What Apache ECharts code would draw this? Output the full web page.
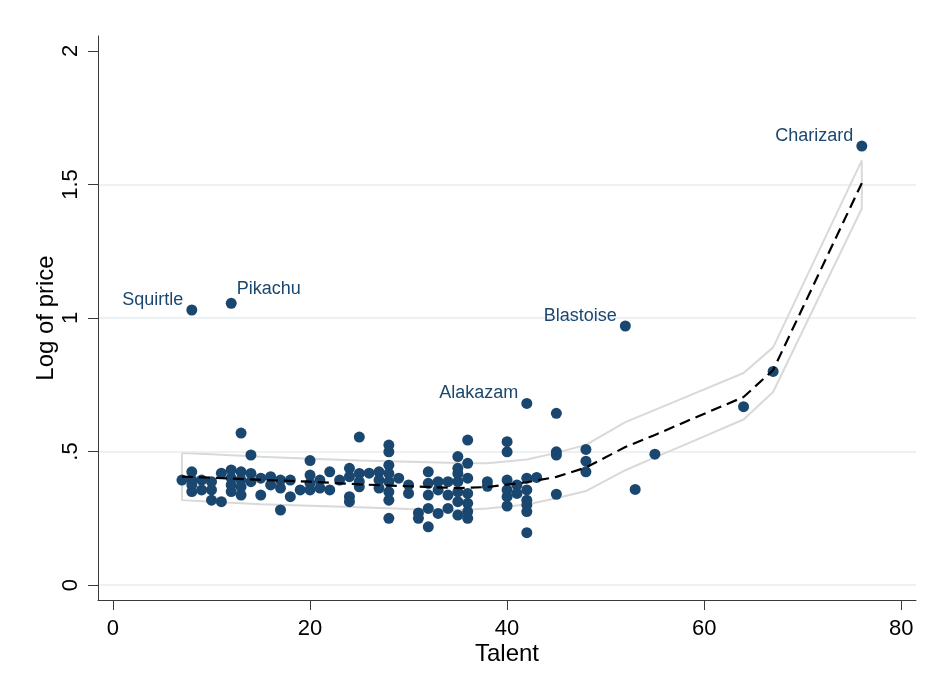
<!DOCTYPE html>
<html>
<head>
<meta charset="utf-8">
<script src="https://cdn.jsdelivr.net/npm/echarts@6/dist/echarts.min.js"></script>
<style>html,body{margin:0;padding:0;background:#fff}#c{width:930px;height:685px}</style>
</head>
<body>
<div id="c"></div>
<script>
// ---- data ----
const talent = [
  7,
  8,8,8,8,
  9,9,
  10,10,10,
  11,11,
  12,12,12,12,
  13,13,13,13,13,
  14,14,14,
  15,15,
  16,16,
  17,17,17,
  18,18,
  19,
  20,20,20,20,
  21,21,
  22,22,
  23,
  24,24,24,24,
  25,25,25,25,
  26,
  27,27,27,
  28,28,28,28,28,28,28,28,
  29,
  30,30,
  31,31,
  32,32,32,32,32,
  33,33,33,
  34,34,34,
  35,35,35,35,35,35,35,
  36,36,36,36,36,36,36,
  38,38,
  40,40,40,40,40,40,
  41,41,
  42,42,42,42,42,42,
  43,
  45,45,45,45,
  48,48,48,
  53,
  55,
  64,
  67
];
const logPrice = [
  0.393,
  0.424,0.393,0.375,0.35,
  0.393,0.356,
  0.387,0.356,0.318,
  0.419,0.312,
  0.431,0.4,0.375,0.35,
  0.569,0.424,0.393,0.368,0.337,
  0.487,0.418,0.387,
  0.4,0.337,
  0.406,0.375,
  0.393,0.363,0.281,
  0.393,0.331,
  0.356,
  0.466,0.412,0.381,0.356,
  0.393,0.363,
  0.424,0.356,
  0.393,
  0.437,0.406,0.331,0.312,
  0.554,0.418,0.387,0.368,
  0.419,
  0.424,0.393,0.363,
  0.524,0.499,0.449,0.418,0.387,0.349,0.318,0.25,
  0.4,
  0.375,0.343,
  0.27,0.25,
  0.424,0.381,0.337,0.287,0.218,
  0.387,0.356,0.268,
  0.387,0.337,0.287,
  0.481,0.437,0.418,0.387,0.349,0.312,0.262,
  0.543,0.456,0.4,0.343,0.306,0.275,0.25,
  0.387,0.37,
  0.537,0.499,0.393,0.356,0.331,0.296,
  0.375,0.343,
  0.4,0.356,0.318,0.3,0.275,0.196,
  0.403,
  0.643,0.499,0.487,0.34,
  0.508,0.464,0.424,
  0.358,
  0.49,
  0.668,
  0.8
];
const namedPokemon = ['Squirtle','Pikachu','Alakazam','Blastoise','Charizard'];
const namedTalent  = [8, 12, 42, 52, 76];
const namedPrice   = [1.03, 1.055, 0.68, 0.97, 1.644];

const fitX     = [7, 10, 15, 20, 25, 30, 35, 38, 42, 45, 48, 52, 55, 58, 64, 67, 76];
const fitY     = [0.406,0.402,0.394,0.387,0.377,0.370,0.363,0.367,0.385,0.405,0.440,0.517,0.562,0.610,0.704,0.805,1.505];
const ciUpper  = [0.494,0.490,0.480,0.473,0.466,0.462,0.457,0.456,0.470,0.495,0.525,0.610,0.656,0.702,0.794,0.890,1.590];
const ciLower  = [0.318,0.312,0.303,0.297,0.291,0.285,0.280,0.287,0.302,0.325,0.352,0.430,0.478,0.525,0.620,0.723,1.410];

const xTicks = [0, 20, 40, 60, 80];
const yTicks = [0, 0.5, 1, 1.5, 2];
const yGridValues = [0, 0.5, 1, 1.5];

// ---- styles (not data) ----
const navy = '#1a476f';
const FONT = 'Liberation Sans, Arial, Helvetica, sans-serif';
const labelSide = {Squirtle:'left', Pikachu:'right', Alakazam:'left', Blastoise:'left', Charizard:'left'};

const scatterData = talent.map((t, i) => [t, logPrice[i]]);
const namedData = namedPokemon.map((n, i) => ({
  name: n,
  value: [namedTalent[i], namedPrice[i]],
  label: {
    show: true,
    position: labelSide[n],
    distance: labelSide[n] === 'right' ? 0 : 3,
    offset: [0, labelSide[n] === 'right' ? -14 : -10],
    formatter: n
  }
}));
const fitData = fitX.map((x, i) => [x, fitY[i]]);
const bandData = [];
fitX.forEach((x, i) => bandData.push([x, ciUpper[i]]));
for (let i = fitX.length - 1; i >= 0; i--) bandData.push([fitX[i], ciLower[i]]);
bandData.push([fitX[0], ciUpper[0]]);

const chart = echarts.init(document.getElementById('c'), null, {renderer: 'canvas'});
chart.setOption({
  backgroundColor: '#ffffff',
  animation: false,
  textStyle: {fontFamily: FONT},
  grid: {left: 98, right: 14, top: 36, bottom: 85, containLabel: false},
  xAxis: {
    type: 'value',
    min: -1.52, max: 81.5,
    name: 'Talent',
    nameLocation: 'middle',
    nameGap: 42,
    nameMoveOverlap: false,
    nameTextStyle: {fontSize: 24, color: '#000', fontFamily: FONT},
    axisLine: {show: true, onZero: false, lineStyle: {color: '#3a3a3a', width: 1}},
    axisTick: {show: true, customValues: xTicks, length: 10, lineStyle: {color: '#3a3a3a', width: 1}},
    axisLabel: {customValues: xTicks, fontSize: 22, color: '#000', margin: 18, fontFamily: FONT},
    splitLine: {show: false}
  },
  yAxis: {
    type: 'value',
    min: -0.056, max: 2.056,
    name: 'Log of price',
    nameLocation: 'middle',
    nameGap: 40,
    nameMoveOverlap: false,
    nameRotate: 90,
    nameTextStyle: {fontSize: 24, color: '#000', fontFamily: FONT},
    axisLine: {show: true, onZero: false, lineStyle: {color: '#3a3a3a', width: 1}},
    axisTick: {show: true, customValues: yTicks, length: 10, lineStyle: {color: '#3a3a3a', width: 1}},
    axisLabel: {
      customValues: yTicks, rotate: 90, fontSize: 22, color: '#000', margin: 16, fontFamily: FONT,
      formatter: v => String(v).replace(/^0\./, '.')
    },
    splitLine: {show: false}
  },
  series: [
    {
      type: 'line', data: [], silent: true, z: 0,
      markLine: {
        silent: true, symbol: 'none', label: {show: false}, z: 0,
        lineStyle: {color: '#e6eef0', width: 1.5, type: 'solid'},
        data: yGridValues.map(v => ({yAxis: v}))
      }
    },
    {
      type: 'line', data: bandData, showSymbol: false, symbol: 'none', silent: true, z: 1,
      lineStyle: {color: '#d9d9d9', width: 2}
    },
    {
      type: 'scatter', data: scatterData, symbol: 'circle', symbolSize: 11, z: 2,
      itemStyle: {color: navy, opacity: 1}
    },
    {
      type: 'scatter', data: namedData, symbol: 'circle', symbolSize: 11, z: 2,
      itemStyle: {color: navy, opacity: 1},
      label: {color: navy, fontSize: 18, fontFamily: FONT}
    },
    {
      type: 'line', data: fitData, showSymbol: false, symbol: 'none', silent: true, z: 3,
      lineStyle: {color: '#000', width: 2.2, type: [11, 6]}
    }
  ]
});
</script>
</body>
</html>
